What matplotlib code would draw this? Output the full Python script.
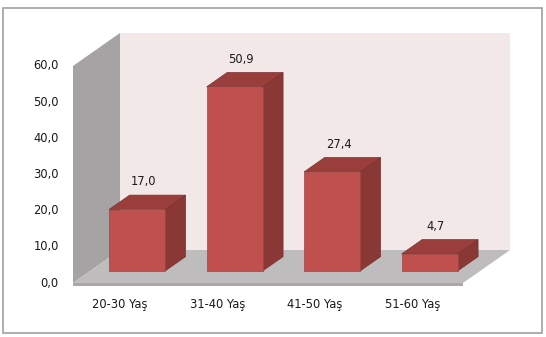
import matplotlib.pyplot as plt
from matplotlib.patches import Rectangle

# veriler
categories = ['20-30 Yaş', '31-40 Yaş', '41-50 Yaş', '51-60 Yaş']
values = [17.0, 50.9, 27.4, 4.7]
yticks = [0, 10, 20, 30, 40, 50, 60]

# 3B görünüm ayarları (veri birimlerinde)
DX, DY = 0.482, 9.12        # duvar derinliği
F0, F1 = 0.364, 0.80        # çubuğun ön / arka derinlik oranı
BAR_W = 0.574
XL, XR = -0.482, 3.518
YMAX = 60

front_c = '#C0504D'
side_c = '#8A3836'
top_c = '#993E3B'

fig = plt.figure(figsize=(5.46, 3.37), dpi=100)
ax = fig.add_axes([0, 0, 1, 1])
ax.set_xlim(-120 / 97.5, 426 / 97.5)
ax.set_ylim(-54 / 3.617, 283 / 3.617)
ax.axis('off')

# arka duvar
ax.fill([XL + DX, XR + DX, XR + DX, XL + DX], [DY, DY, YMAX + DY, YMAX + DY],
        color='#F3E8E8', lw=0)
# sol duvar
ax.fill([XL, XL, XL + DX, XL + DX], [0, YMAX, YMAX + DY, DY], color='#A5A3A3', lw=0)
# zemin
ax.fill([XL, XR, XR + DX, XL + DX], [0, 0, DY, DY], color='#BEBCBC', lw=0)
ax.fill([XL, XR, XR, XL], [-0.7, -0.7, 0, 0], color='#A9A7A7', lw=0)

# çubuklar
for i, v in enumerate(values):
    x0 = i - BAR_W / 2 + F0 * DX
    x1 = i + BAR_W / 2 + F0 * DX
    b0 = F0 * DY
    ddx = (F1 - F0) * DX
    ddy = (F1 - F0) * DY
    # sağ yüz
    ax.fill([x1, x1 + ddx, x1 + ddx, x1], [b0, b0 + ddy, b0 + v + ddy, b0 + v],
            color=side_c, ec='#7A302E', lw=0.5)
    # üst yüz
    ax.fill([x0, x1, x1 + ddx, x0 + ddx], [b0 + v, b0 + v, b0 + v + ddy, b0 + v + ddy],
            color=top_c, ec='#7A302E', lw=0.5)
    # ön yüz
    ax.fill([x0, x1, x1, x0], [b0, b0, b0 + v, b0 + v],
            color=front_c, ec='#A04340', lw=0.5)
    # değer etiketi
    ax.annotate(f'{v:.1f}'.replace('.', ','), (i + 0.5 * DX, v + F1 * DY),
                xytext=(0, 9.5), textcoords='offset points',
                ha='center', va='center', fontsize=8.3, color='#1a1a1a')

# y ekseni etiketleri
for t in yticks:
    ax.text(XL - 0.145, t, f'{t:.1f}'.replace('.', ','),
            ha='right', va='center', fontsize=8.3, color='#1a1a1a')

# kategori etiketleri
for i, c in enumerate(categories):
    ax.annotate(c, (i, 0), xytext=(0, -15.8), textcoords='offset points',
                ha='center', va='center', fontsize=8.3, color='#1a1a1a')

# çerçeve
fig.patches.append(Rectangle((3 / 546, 4 / 337), 539 / 546, 325 / 337,
                             transform=fig.transFigure, fill=False,
                             ec='#A0A0A0', lw=1.2))

fig.savefig('out.png', dpi=100)
